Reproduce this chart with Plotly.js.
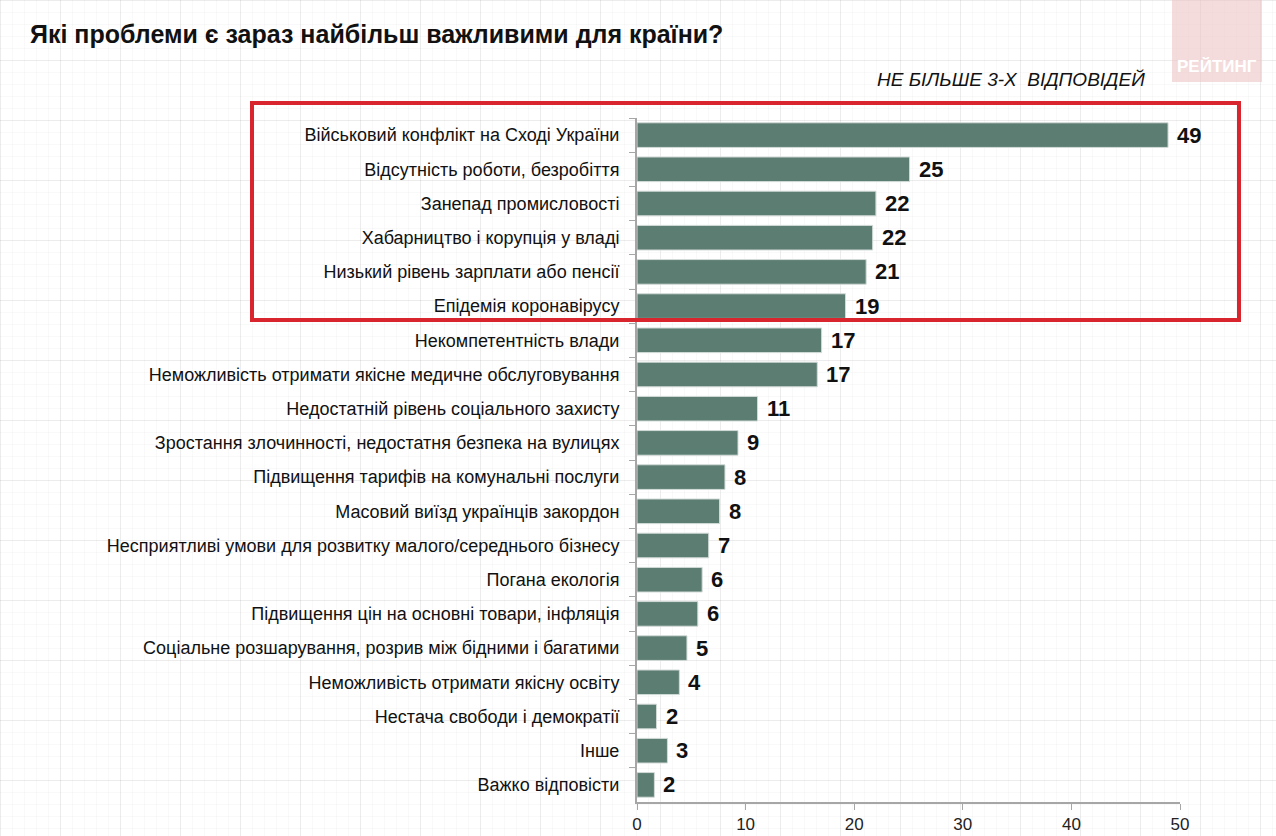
<!DOCTYPE html>
<html>
<head>
<meta charset="utf-8">
<script src="https://cdn.plot.ly/plotly-3.0.1.min.js"></script>
<style>
html,body{margin:0;padding:0;}
body{
  width:1276px;height:836px;overflow:hidden;
  background-color:#ffffff;
  background-image:
    linear-gradient(to right, rgba(0,0,0,0.05) 1px, transparent 1px),
    linear-gradient(to bottom, rgba(0,0,0,0.05) 1px, transparent 1px),
    linear-gradient(to right, rgba(0,0,0,0.022) 1px, transparent 1px),
    linear-gradient(to bottom, rgba(0,0,0,0.022) 1px, transparent 1px);
  background-size:60px 60px,60px 60px,12px 12px,12px 12px;
}
#chart{width:1276px;height:836px;}
</style>
</head>
<body>
<div id="chart"></div>
<script>
const categories = [
  "Військовий конфлікт на Сході України",
  "Відсутність роботи, безробіття",
  "Занепад промисловості",
  "Хабарництво і корупція у владі",
  "Низький рівень зарплати або пенсії",
  "Епідемія коронавірусу",
  "Некомпетентність влади",
  "Неможливість отримати якісне медичне обслуговування",
  "Недостатній рівень соціального захисту",
  "Зростання злочинності, недостатня безпека на вулицях",
  "Підвищення тарифів на комунальні послуги",
  "Масовий виїзд українців закордон",
  "Несприятливі умови для розвитку малого/середнього бізнесу",
  "Погана екологія",
  "Підвищення цін на основні товари, інфляція",
  "Соціальне розшарування, розрив між бідними і багатими",
  "Неможливість отримати якісну освіту",
  "Нестача свободи і демократії",
  "Інше",
  "Важко відповісти"
];
const values = [48.9, 25.1, 22.0, 21.7, 21.1, 19.2, 17.0, 16.6, 11.1, 9.3, 8.1, 7.6, 6.6, 6.0, 5.6, 4.6, 3.9, 1.8, 2.8, 1.6];
const valueLabels = ["49","25","22","22","21","19","17","17","11","9","8","8","7","6","6","5","4","2","3","2"];
const xTicks = [0, 10, 20, 30, 40, 50];
const titleText = "Які проблеми є зараз найбільш важливими для країни?";
const noteText = "НЕ БІЛЬШЕ 3-Х  ВІДПОВІДЕЙ";
const logoText = "РЕЙТИНГ";

const barColor = "#5b7d72";
const FONT = "Liberation Sans, Arial, sans-serif";

const trace = {
  type: "bar",
  orientation: "h",
  y: categories,
  x: values,
  marker: {color: barColor, line: {color: "#d3dbd8", width: 1}},
  hoverinfo: "x+y",
  width: 0.72
};

const annotations = categories.map((c, i) => ({
  x: values[i], y: c, xref: "x", yref: "y",
  text: "<b>" + valueLabels[i] + "</b>", showarrow: false,
  xanchor: "left", yanchor: "middle", xshift: 7,
  font: {family: FONT, size: 22, color: "#111111"}
}));

annotations.push({
  xref: "paper", yref: "paper", x: (1147 - 637) / 543, y: (802 - 80) / 684,
  xanchor: "right", yanchor: "middle", showarrow: false,
  text: "<i>" + noteText + "</i>",
  font: {family: FONT, size: 19, color: "#111111"}
});
annotations.push({
  xref: "paper", yref: "paper", x: (1217 - 637) / 543, y: (802 - 66) / 684,
  xanchor: "center", yanchor: "middle", showarrow: false,
  text: "<b>" + logoText + "</b>",
  font: {family: FONT, size: 17, color: "#ffffff"}
});

const layout = {
  width: 1276, height: 836,
  paper_bgcolor: "rgba(0,0,0,0)",
  plot_bgcolor: "rgba(0,0,0,0)",
  margin: {l: 637, r: 96, t: 118, b: 34},
  showlegend: false,
  title: {
    text: "<b>" + titleText + "</b>",
    x: 30 / 1276, xanchor: "left", xref: "container",
    y: 1 - 34 / 836, yanchor: "middle", yref: "container",
    font: {family: FONT, size: 25, color: "#111111"}
  },
  xaxis: {
    range: [0, 50],
    tickvals: xTicks,
    ticktext: xTicks.map(String),
    showgrid: false, zeroline: false,
    showline: true, linecolor: "#a6a6a6", linewidth: 2,
    ticks: "outside", ticklen: 6, tickcolor: "#a6a6a6", tickwidth: 1,
    tickfont: {family: FONT, size: 17, color: "#222222"},
    fixedrange: true
  },
  yaxis: {
    type: "category",
    autorange: "reversed",
    showgrid: false, zeroline: false,
    showline: true, linecolor: "#a6a6a6", linewidth: 2,
    ticks: "outside", ticklen: 6, tickcolor: "#a6a6a6", tickwidth: 1,
    tickson: "boundaries",
    ticklabelstandoff: 12,
    tickfont: {family: FONT, size: 18, color: "#111111"},
    fixedrange: true
  },
  bargap: 0.28,
  annotations: annotations,
  shapes: [
    {type: "rect", xref: "paper", yref: "paper",
     x0: (1172 - 637) / 543, x1: (1262 - 637) / 543,
     y0: (802 - 82) / 684, y1: (802 + 5) / 684,
     fillcolor: "rgba(236,196,196,0.6)", line: {width: 0}, layer: "below"},
    {type: "rect", xref: "paper", yref: "paper",
     x0: (252 - 637) / 543, x1: (1239 - 637) / 543,
     y0: (802 - 320) / 684, y1: (802 - 103) / 684,
     fillcolor: "rgba(0,0,0,0)", line: {color: "#d9262e", width: 4}}
  ]
};

Plotly.newPlot("chart", [trace], layout, {displayModeBar: false, responsive: false});
</script>
</body>
</html>
